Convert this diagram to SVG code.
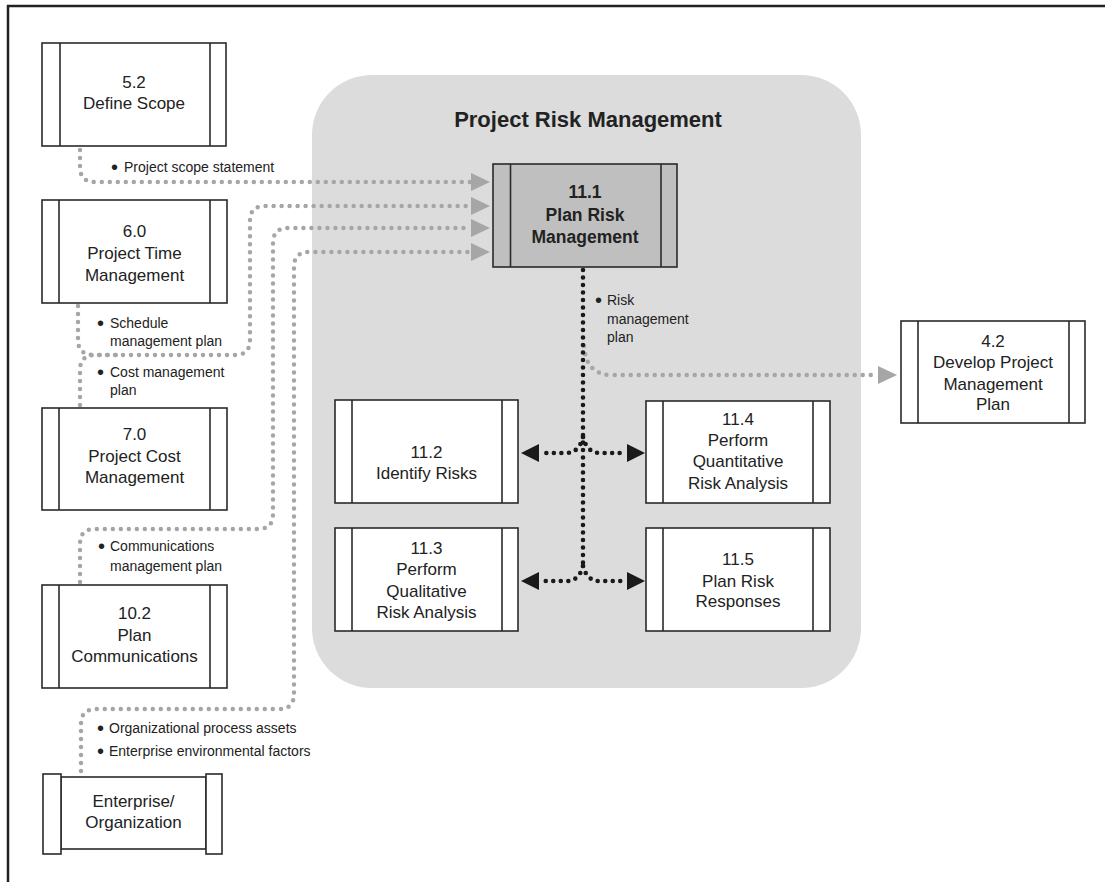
<svg xmlns="http://www.w3.org/2000/svg" width="1105" height="882" viewBox="0 0 1105 882">
<style>
.box{fill:#fff;stroke:#2a2a2a;stroke-width:1.6}
.hi{fill:#bfbfbf;stroke:#2a2a2a;stroke-width:1.6}
.n{font-family:"Liberation Sans",Arial,sans-serif;font-size:17px;fill:#222;text-anchor:middle}
.b{font-weight:bold}
.lbl{font-family:"Liberation Sans",Arial,sans-serif;font-size:14px;fill:#222}
.bu{font-size:20px}
.g{fill:none;stroke:#a6a6a6;stroke-width:4.5;stroke-linecap:round;stroke-dasharray:0 8}
.k{fill:none;stroke:#1a1a1a;stroke-width:4.6;stroke-linecap:round;stroke-dasharray:0 7.5}
</style>
<defs>
<marker id="ga" markerUnits="userSpaceOnUse" markerWidth="20" markerHeight="20" refX="0" refY="9" orient="auto" viewBox="0 0 20 20">
<path d="M0,0 L19,9 L0,18 z" fill="#a6a6a6"/>
</marker>
<marker id="ba" markerUnits="userSpaceOnUse" markerWidth="20" markerHeight="20" refX="0" refY="9" orient="auto" viewBox="0 0 20 20">
<path d="M0,0 L18,9 L0,18 z" fill="#1a1a1a"/>
</marker>
</defs>
<rect x="0" y="0" width="1105" height="882" fill="#fff"/>
<rect x="8" y="6" width="1110" height="900" fill="none" stroke="#222" stroke-width="2.5"/>

<g id="group-risk">
<rect x="312" y="75" width="549" height="613" rx="60" ry="60" fill="#dcdcdc"/>
<text class="n b" x="588" y="127" style="font-size:22px">Project Risk Management</text>
</g>

<g id="connectors">
<path class="g" d="M80,150 V167 Q80,182 95,182 H471" marker-end="url(#ga)"/>
<path class="g" d="M78,306 V340 Q78,355 94,355 H235 Q250,355 250,340 V221 Q250,206 265,206 H471" marker-end="url(#ga)"/>
<path class="g" d="M80,405 V370 Q80,355 95,355 H120"/>
<path class="g" d="M80,582 V544 Q80,529 95,529 H258 Q273,529 273,514 V243 Q273,228 288,228 H471" marker-end="url(#ga)"/>
<path class="g" d="M81,771 V724 Q81,709 96,709 H279 Q294,709 294,694 V267 Q294,252 309,252 H471" marker-end="url(#ga)"/>
<path class="g" d="M584,346 Q586,375 612,375 H878" marker-end="url(#ga)"/>
<path class="k" d="M583,270 V570"/>
<path class="k" d="M583,437 Q579,453 566,453 H539" marker-end="url(#ba)"/>
<path class="k" d="M583,437 Q587,453 600,453 H627" marker-end="url(#ba)"/>
<path class="k" d="M583,566 Q579,581 567,581 H539" marker-end="url(#ba)"/>
<path class="k" d="M583,566 Q587,581 599,581 H627" marker-end="url(#ba)"/>
</g>

<g id="labels">
<text class="lbl" x="111" y="172"><tspan class="bu" dy="2">•</tspan><tspan x="124" dy="-2">Project scope statement</tspan></text>
<text class="lbl" x="97" y="328"><tspan class="bu" dy="2">•</tspan><tspan x="110" dy="-2">Schedule</tspan><tspan x="110" y="346">management plan</tspan></text>
<text class="lbl" x="97" y="377"><tspan class="bu" dy="2">•</tspan><tspan x="110" dy="-2">Cost management</tspan><tspan x="110" y="395">plan</tspan></text>
<text class="lbl" x="98" y="551"><tspan class="bu" dy="2">•</tspan><tspan x="110" dy="-2">Communications</tspan><tspan x="110" y="571">management plan</tspan></text>
<text class="lbl" x="97" y="733"><tspan class="bu" dy="2">•</tspan><tspan x="109" dy="-2">Organizational process assets</tspan></text>
<text class="lbl" x="97" y="756"><tspan class="bu" dy="2">•</tspan><tspan x="109" dy="-2">Enterprise environmental factors</tspan></text>
<text class="lbl" x="595" y="305"><tspan class="bu" dy="2">•</tspan><tspan x="607" dy="-2">Risk</tspan><tspan x="607" y="324">management</tspan><tspan x="607" y="342">plan</tspan></text>
</g>

<g id="node-5-2">
<rect class="box" x="42" y="43" width="184" height="103"/>
<line class="box" x1="60" y1="43" x2="60" y2="146"/>
<line class="box" x1="210" y1="43" x2="210" y2="146"/>
<text class="n" x="134" y="88">5.2</text>
<text class="n" x="134" y="109">Define Scope</text>
</g>

<g id="node-6-0">
<rect class="box" x="42" y="200" width="185" height="103"/>
<line class="box" x1="59" y1="200" x2="59" y2="303"/>
<line class="box" x1="210" y1="200" x2="210" y2="303"/>
<text class="n" x="134.5" y="237">6.0</text>
<text class="n" x="134.5" y="259">Project Time</text>
<text class="n" x="134.5" y="281">Management</text>
</g>

<g id="node-7-0">
<rect class="box" x="42" y="408" width="185" height="102"/>
<line class="box" x1="59" y1="408" x2="59" y2="510"/>
<line class="box" x1="210" y1="408" x2="210" y2="510"/>
<text class="n" x="134.5" y="440">7.0</text>
<text class="n" x="134.5" y="462">Project Cost</text>
<text class="n" x="134.5" y="483">Management</text>
</g>

<g id="node-10-2">
<rect class="box" x="42" y="585" width="185" height="103"/>
<line class="box" x1="59" y1="585" x2="59" y2="688"/>
<line class="box" x1="210" y1="585" x2="210" y2="688"/>
<text class="n" x="134.5" y="619">10.2</text>
<text class="n" x="134.5" y="641">Plan</text>
<text class="n" x="134.5" y="662">Communications</text>
</g>

<g id="node-enterprise">
<rect class="box" x="61" y="777" width="145" height="72"/>
<rect class="box" x="43" y="774" width="18" height="80"/>
<rect class="box" x="206" y="774" width="16" height="80"/>
<text class="n" x="133.5" y="807">Enterprise/</text>
<text class="n" x="133.5" y="828">Organization</text>
</g>

<g id="node-11-1">
<rect class="hi" x="493" y="164" width="184" height="103"/>
<line class="hi" x1="510.5" y1="164" x2="510.5" y2="267"/>
<line class="hi" x1="661" y1="164" x2="661" y2="267"/>
<text class="n b" x="585" y="198" style="font-size:17.5px">11.1</text>
<text class="n b" x="585" y="221" style="font-size:17.5px">Plan Risk</text>
<text class="n b" x="585" y="243" style="font-size:17.5px">Management</text>
</g>

<g id="node-4-2">
<rect class="box" x="901" y="321" width="184" height="102"/>
<line class="box" x1="918" y1="321" x2="918" y2="423"/>
<line class="box" x1="1069" y1="321" x2="1069" y2="423"/>
<text class="n" x="993" y="347">4.2</text>
<text class="n" x="993" y="368">Develop Project</text>
<text class="n" x="993" y="390">Management</text>
<text class="n" x="993" y="410">Plan</text>
</g>

<g id="node-11-2">
<rect class="box" x="335" y="400" width="183" height="103"/>
<line class="box" x1="352" y1="400" x2="352" y2="503"/>
<line class="box" x1="502" y1="400" x2="502" y2="503"/>
<text class="n" x="426.5" y="458">11.2</text>
<text class="n" x="426.5" y="479">Identify Risks</text>
</g>

<g id="node-11-3">
<rect class="box" x="335" y="528" width="183" height="103"/>
<line class="box" x1="352" y1="528" x2="352" y2="631"/>
<line class="box" x1="502" y1="528" x2="502" y2="631"/>
<text class="n" x="426.5" y="554">11.3</text>
<text class="n" x="426.5" y="575">Perform</text>
<text class="n" x="426.5" y="597">Qualitative</text>
<text class="n" x="426.5" y="618">Risk Analysis</text>
</g>

<g id="node-11-4">
<rect class="box" x="646" y="401" width="184" height="102"/>
<line class="box" x1="663" y1="401" x2="663" y2="503"/>
<line class="box" x1="813" y1="401" x2="813" y2="503"/>
<text class="n" x="738" y="425">11.4</text>
<text class="n" x="738" y="446">Perform</text>
<text class="n" x="738" y="467">Quantitative</text>
<text class="n" x="738" y="489">Risk Analysis</text>
</g>

<g id="node-11-5">
<rect class="box" x="646" y="528" width="184" height="103"/>
<line class="box" x1="663" y1="528" x2="663" y2="631"/>
<line class="box" x1="813" y1="528" x2="813" y2="631"/>
<text class="n" x="738" y="565">11.5</text>
<text class="n" x="738" y="587">Plan Risk</text>
<text class="n" x="738" y="607">Responses</text>
</g>
</svg>
